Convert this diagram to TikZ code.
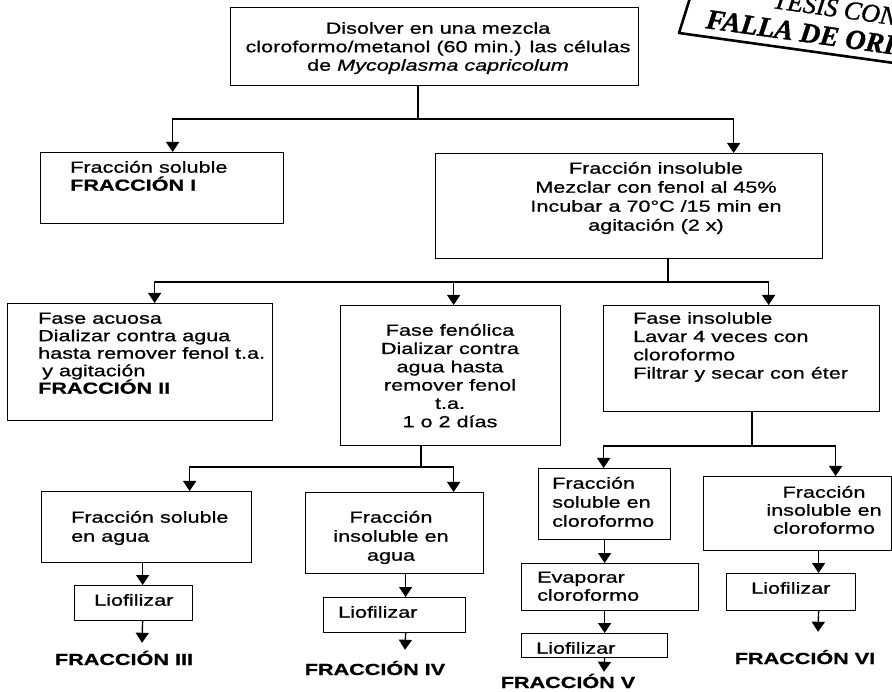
\documentclass[tikz,border=0pt]{standalone}
\usepackage{fontspec}
\setmainfont[FakeStretch=1.35,FakeBold=0.8]{Liberation Sans}
\newfontfamily\stampfont[FakeBold=1.2]{Liberation Serif}
\usetikzlibrary{arrows.meta}
\newcommand\fst{\rule{0pt}{16pt}}
\tikzset{
 box/.style={draw, line width=1.2pt, inner sep=0pt, anchor=north west},
 conn/.style={line width=1.4pt},
 arr/.style={line width=1.4pt, -{Triangle[width=13pt,length=10pt]}},
 ltxt/.style={inner sep=0pt, anchor=north west, align=left, font=\fontsize{16}{18.5}\selectfont},
 ctxt/.style={ltxt, anchor=north, align=center},
 flabel/.style={inner sep=0pt, anchor=base, text height=12pt, text depth=0pt, font=\fontsize{16}{18.5}\selectfont\bfseries},
 stampline/.style={line width=2.6pt, line join=round},
 stamptxt/.style={inner sep=0pt, anchor=base west, rotate=-8},
}
\begin{document}
\begin{tikzpicture}[x=1pt,y=-1pt]
\useasboundingbox (0,0) rectangle (892,692);
\clip (0,0) rectangle (892,692);
% stamp
\draw[stampline] (690,-2) -- (679,33) -- (894,63);
\node[stamptxt, font=\stampfont\fontsize{28}{28}\selectfont\bfseries\itshape] (st2) at (705,28) {FALLA DE ORIGEN};
\node[stamptxt, font=\stampfont\fontsize{26}{26}\selectfont\itshape] (st1) at (772,8) {TESIS CON};
% boxes
\node[box, minimum width=408pt, minimum height=78pt] (top) at (230,7) {};
\node[box, minimum width=243pt, minimum height=71pt] (fs1) at (40,152) {};
\node[box, minimum width=387pt, minimum height=105pt] (fi) at (435,153) {};
\node[box, minimum width=265pt, minimum height=117pt] (fa) at (7,303) {};
\node[box, minimum width=220pt, minimum height=140pt] (ff) at (340,305) {};
\node[box, minimum width=276pt, minimum height=106pt] (fins) at (603,305) {};
\node[box, minimum width=210pt, minimum height=71pt] (fsa) at (41,491) {};
\node[box, minimum width=118pt, minimum height=35pt] (lio3) at (74,585) {};
\node[box, minimum width=178pt, minimum height=81pt] (fia) at (305,492) {};
\node[box, minimum width=142pt, minimum height=35pt] (lio4) at (323,597) {};
\node[box, minimum width=132pt, minimum height=71pt] (fsc) at (538,468) {};
\node[box, minimum width=177pt, minimum height=47pt] (evap) at (521,563) {};
\node[box, minimum width=146pt, minimum height=24pt] (lio5) at (521,633) {};
\node[box, minimum width=188pt, minimum height=74pt] (fic) at (703,476) {};
\node[box, minimum width=129pt, minimum height=37pt] (lio6) at (726,573) {};
% texts
\node[ctxt, font=\fontsize{16}{18.5}\selectfont] (ttop) at (438,17.5) {\fst Disolver en una mezcla\\ cloroformo/metanol (60 min.) las células\\ de \textit{Mycoplasma capricolum}};
\node[ltxt, font=\fontsize{16}{18}\selectfont] (tfs1) at (70,156.5) {\fst Fracción soluble\\ \textbf{FRACCIÓN I}};
\node[ctxt, font=\fontsize{16}{19}\selectfont] (tfi) at (656,157.5) {\fst Fracción insoluble\\ Mezclar con fenol al 45\%\\ Incubar a 70°C /15 min en\\ agitación (2 x)};
\node[ltxt, font=\fontsize{16}{17.5}\selectfont] (tfa) at (38,307.5) {\fst Fase acuosa\\ Dializar contra agua\\ hasta remover fenol t.a.\\ \hspace*{4pt}y agitación\\ \textbf{FRACCIÓN II}};
\node[ctxt, font=\fontsize{16}{18.3}\selectfont] (tff) at (450,319.5) {\fst Fase fenólica\\ Dializar contra\\ agua hasta\\ remover fenol\\ t.a.\\ 1 o 2 días};
\node[ltxt, font=\fontsize{16}{18.3}\selectfont] (tfins) at (633,307.5) {\fst Fase insoluble\\ Lavar 4 veces con\\ cloroformo\\ Filtrar y secar con éter};
\node[ltxt, font=\fontsize{16}{19}\selectfont] (tfsa) at (71,506.5) {\fst Fracción soluble\\ en agua};
\node[ltxt] (tl3) at (94,589.5) {\fst Liofilizar};
\node[ctxt, font=\fontsize{16}{19}\selectfont] (tfia) at (391,506.5) {\fst Fracción\\ insoluble en\\ agua};
\node[ltxt] (tl4) at (338,601.5) {\fst Liofilizar};
\node[ltxt, font=\fontsize{16}{19}\selectfont] (tfsc) at (552,472.5) {\fst Fracción\\ soluble en\\ cloroformo};
\node[ltxt, font=\fontsize{16}{18}\selectfont] (tevap) at (537,566.5) {\fst Evaporar\\ cloroformo};
\node[ltxt] (tl5) at (536,637.5) {\fst Liofilizar};
\node[ctxt, font=\fontsize{16}{18}\selectfont] (tfic) at (824,481.5) {\fst Fracción\\ insoluble en\\ cloroformo};
\node[ltxt] (tl6) at (751,577.5) {\fst Liofilizar};
% final labels
\node[flabel] (f3) at (124,665) {FRACCIÓN III};
\node[flabel] (f4) at (375,675) {FRACCIÓN IV};
\node[flabel] (f5) at (568,688) {FRACCIÓN V};
\node[flabel] (f6) at (805,664) {FRACCIÓN VI};
% connectors
\coordinate (j1) at (418,119);
\draw[conn] (top.south -| j1) -- (j1);
\draw[arr] (j1) -| ([xshift=10.5pt]fs1.north);
\draw[arr] (j1) -| ([xshift=104.5pt]fi.north);
\coordinate (j2) at (668,282);
\draw[conn] (fi.south -| j2) -- (j2);
\draw[arr] (j2) -| ([xshift=14.5pt]fa.north);
\draw[arr] (j2) -| ([xshift=3pt]ff.north);
\draw[arr] (j2) -| ([xshift=27pt]fins.north);
\coordinate (j3) at (421,467);
\draw[conn] (ff.south -| j3) -- (j3);
\draw[arr] (j3) -| ([xshift=43pt]fsa.north);
\draw[arr] (j3) -| ([xshift=59pt]fia.north);
\coordinate (j4) at (752,446);
\draw[conn] (fins.south -| j4) -- (j4);
\draw[arr] (j4) -| ([xshift=-1pt]fsc.north);
\draw[arr] (j4) -| ([xshift=38pt]fic.north);
\draw[arr] ([xshift=-4pt]fsa.south) -- ([xshift=9pt]lio3.north);
\draw[arr] ([xshift=9pt]lio3.south) -- ([xshift=18pt,yshift=10pt]f3.north);
\draw[arr] ([xshift=11pt]fia.south) -- ([xshift=11pt]lio4.north);
\draw[arr] ([xshift=11pt]lio4.south) -- ([xshift=30pt,yshift=13pt]f4.north);
\draw[arr] (fsc.south) -- ([xshift=-5.5pt]evap.north);
\draw[arr] ([xshift=-5.5pt]evap.south) -- ([xshift=10pt]lio5.north);
\draw[arr] ([xshift=10pt]lio5.south) -- ([xshift=36pt,yshift=4pt]f5.north);
\draw[arr] ([xshift=21pt]fic.south) -- ([xshift=27.5pt]lio6.north);
\draw[arr] ([xshift=27.5pt]lio6.south) -- ([xshift=13pt,yshift=20pt]f6.north);
\end{tikzpicture}
\end{document}
